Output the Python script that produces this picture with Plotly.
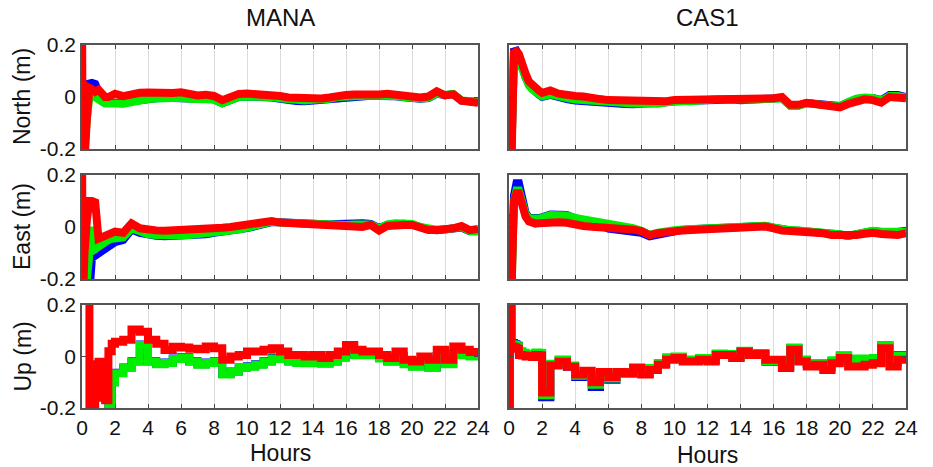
import plotly.graph_objects as go

# Time axis (hours), shared by every series
HOURS = [0, 0.05, 0.15, 0.3, 0.45, 0.6, 0.8, 1.0, 1.2, 1.4, 1.6, 1.8,
         2.0, 2.5, 3.0, 3.5, 4.0, 4.5, 5.0, 5.5, 6.0, 6.5, 7.0, 7.5,
         8.0, 8.5, 9.0, 9.5, 10.0, 10.5, 11.0, 11.5, 12.0, 12.5, 13.0, 13.5,
         14.0, 14.5, 15.0, 15.5, 16.0, 16.5, 17.0, 17.5, 18.0, 18.5, 19.0, 19.5,
         20.0, 20.5, 21.0, 21.5, 22.0, 22.5, 23.0, 23.5, 24.0]

STATIONS = ["MANA", "CAS1"]
COMPONENTS = ["North (m)", "East (m)", "Up (m)"]
Y_TICKS = [-0.2, 0, 0.2]
Y_TICK_TEXT = ["-0.2", "0", "0.2"]
X_TICKS = [0, 2, 4, 6, 8, 10, 12, 14, 16, 18, 20, 22, 24]

# ---------------- MANA ----------------
mana_north_blue = [0.0, -0.12, -0.06, 0.02, 0.052, 0.054, 0.05, 0.02, -0.012, -0.022, -0.025, -0.023,
                   -0.023, -0.024, -0.016, -0.01, -0.007, -0.005, -0.003, -0.004, -0.002, -0.006, -0.008, -0.006,
                   -0.009, -0.024, -0.011, 0.0, 0.002, 0.002, 0.002, -0.002, -0.007, -0.013, -0.015, -0.016,
                   -0.013, -0.012, -0.008, -0.001, 0.002, 0.003, 0.001, 0.005, 0.004, 0.006, 0.003, -0.001,
                   -0.005, -0.007, -0.004, 0.013, 0.007, 0.011, -0.014, -0.016, -0.019]
mana_north_green = [-0.25, -0.25, -0.2, -0.08, 0.0, 0.008, 0.002, -0.005, -0.018, -0.025, -0.027, -0.025,
                    -0.025, -0.026, -0.018, -0.012, -0.008, -0.006, -0.004, -0.005, -0.003, -0.007, -0.009, -0.007,
                    -0.01, -0.025, -0.012, 0.0, 0.002, 0.002, 0.003, 0.0, -0.005, -0.01, -0.012, -0.013,
                    -0.011, -0.011, -0.007, 0.0, 0.003, 0.004, 0.002, 0.006, 0.005, 0.007, 0.004, 0.0,
                    -0.004, -0.006, -0.003, 0.014, 0.008, 0.012, -0.013, -0.015, -0.018]
mana_north_red = [0.3, -0.3, -0.25, -0.08, 0.035, 0.03, 0.02, 0.028, 0.012, 0.0, 0.0, 0.01,
                  0.012, 0.003, 0.012, 0.016, 0.017, 0.015, 0.018, 0.015, 0.018, 0.01, 0.006, 0.009,
                  0.004, -0.012, 0.0, 0.012, 0.013, 0.012, 0.013, 0.008, 0.004, -0.002, -0.004, -0.006,
                  -0.004, -0.006, -0.002, 0.005, 0.008, 0.01, 0.008, 0.012, 0.01, 0.012, 0.008, 0.004,
                  0.0, -0.002, 0.002, 0.022, 0.006, 0.01, -0.014, -0.018, -0.022]

mana_east_blue = [-0.3, -0.3, -0.3, -0.3, -0.25, -0.12, -0.11, -0.1, -0.09, -0.08, -0.07, -0.062,
                  -0.058, -0.05, -0.01, -0.023, -0.031, -0.034, -0.036, -0.035, -0.036, -0.034, -0.032, -0.028,
                  -0.022, -0.019, -0.015, -0.01, -0.004, 0.003, 0.01, 0.019, 0.018, 0.016, 0.015, 0.013,
                  0.012, 0.01, 0.01, 0.012, 0.014, 0.012, 0.014, 0.012, -0.004, 0.008, 0.012, 0.012,
                  0.01, -0.002, -0.01, -0.012, -0.012, -0.006, -0.002, -0.016, -0.016]
mana_east_green = [-0.3, -0.3, -0.25, -0.2, -0.1, 0.0, -0.085, -0.075, -0.065, -0.055, -0.05, -0.045,
                   -0.042, -0.04, -0.005, -0.02, -0.028, -0.031, -0.033, -0.032, -0.033, -0.031, -0.029, -0.025,
                   -0.02, -0.018, -0.014, -0.01, -0.004, 0.003, 0.01, 0.02, 0.017, 0.015, 0.014, 0.012,
                   0.01, 0.008, 0.006, 0.006, 0.008, 0.01, 0.01, 0.01, -0.006, 0.01, 0.014, 0.014,
                   0.012, 0.0, -0.008, -0.01, -0.01, -0.004, 0.0, -0.015, -0.015]
mana_east_red = [0.3, -0.3, -0.1, 0.03, 0.1, 0.1, 0.095, -0.045, -0.04, -0.03, -0.03, -0.018,
                 -0.018, -0.022, 0.014, -0.005, -0.012, -0.013, -0.014, -0.013, -0.015, -0.014, -0.012, -0.008,
                 -0.005, -0.003, 0.0, 0.004, 0.008, 0.012, 0.017, 0.023, 0.017, 0.015, 0.014, 0.012,
                 0.01, 0.007, 0.004, 0.004, 0.004, -0.005, 0.0, 0.008, -0.014, 0.004, 0.008, 0.008,
                 0.008, -0.005, -0.012, -0.012, -0.012, -0.005, 0.004, -0.012, -0.008]

mana_up_blue = [-0.3, -0.3, -0.3, -0.3, -0.3, -0.3, -0.25, -0.25, -0.25, -0.22, -0.2, -0.1,
                -0.063, -0.043, -0.018, 0.047, -0.018, -0.028, -0.023, -0.008, -0.003, -0.018, -0.03, -0.023,
                -0.018, -0.068, -0.058, -0.043, -0.038, -0.03, -0.018, -0.006, -0.008, -0.018, -0.023, -0.024,
                -0.018, -0.026, -0.018, -0.003, 0.027, 0.007, 0.007, 0.007, -0.006, -0.018, 0.002, -0.028,
                -0.038, -0.018, -0.043, 0.002, -0.028, 0.012, 0.007, 0.002, -0.008]
mana_up_green = [-0.3, -0.3, -0.3, -0.3, -0.3, -0.3, -0.25, -0.25, -0.25, -0.22, -0.2, -0.1,
                 -0.065, -0.045, -0.02, 0.045, -0.02, -0.03, -0.025, -0.01, -0.005, -0.02, -0.032, -0.025,
                 -0.02, -0.07, -0.06, -0.045, -0.04, -0.032, -0.02, -0.008, -0.01, -0.02, -0.025, -0.026,
                 -0.02, -0.028, -0.02, -0.005, 0.025, 0.005, 0.005, 0.005, -0.008, -0.02, 0.0, -0.03,
                 -0.04, -0.02, -0.045, 0.0, -0.03, 0.01, 0.005, 0.0, -0.01]
mana_up_red = [0.3, 0.3, 0.3, 0.3, -0.25, -0.2, -0.03, -0.02, -0.16, -0.17, 0.02, 0.05,
               0.057, 0.065, 0.105, 0.096, 0.065, 0.05, 0.025, 0.038, 0.035, 0.03, 0.028, 0.039,
               0.032, -0.013, 0.0, 0.006, 0.019, 0.019, 0.026, 0.032, 0.019, 0.006, 0.006, 0.0,
               0.006, -0.006, 0.006, 0.019, 0.045, 0.026, 0.019, 0.019, 0.006, -0.006, 0.019, -0.013,
               -0.019, 0.0, -0.013, 0.026, -0.013, 0.039, 0.026, 0.017, 0.01]

# ---------------- CAS1 ----------------
cas1_north_blue = [-0.1, -0.22, -0.2, 0.175, 0.178, 0.16, 0.11, 0.075, 0.05, 0.032, 0.021, 0.01,
                   0.0, 0.008, -0.003, -0.008, -0.014, -0.017, -0.02, -0.025, -0.026, -0.027, -0.027, -0.028,
                   -0.027, -0.027, -0.026, -0.02, -0.016, -0.015, -0.015, -0.011, -0.008, -0.008, -0.008, -0.01,
                   -0.012, -0.009, -0.008, -0.009, -0.007, -0.004, -0.033, -0.033, -0.023, -0.027, -0.029, -0.031,
                   -0.035, -0.021, -0.008, -0.004, -0.004, -0.012, 0.008, 0.008, 0.0]
cas1_north_green = [-0.3, -0.3, -0.2, 0.15, 0.16, 0.14, 0.1, 0.07, 0.045, 0.03, 0.02, 0.01,
                    0.002, 0.01, 0.0, -0.004, -0.01, -0.013, -0.015, -0.02, -0.022, -0.024, -0.024, -0.025,
                    -0.025, -0.026, -0.026, -0.02, -0.016, -0.016, -0.016, -0.012, -0.009, -0.009, -0.009, -0.011,
                    -0.013, -0.01, -0.009, -0.01, -0.008, -0.005, -0.034, -0.034, -0.024, -0.028, -0.03, -0.032,
                    -0.036, -0.02, -0.006, -0.002, -0.004, -0.014, 0.004, 0.004, -0.002]
cas1_north_red = [-0.3, -0.3, -0.25, 0.17, 0.175, 0.165, 0.12, 0.09, 0.06, 0.045, 0.035, 0.025,
                  0.016, 0.025, 0.013, 0.012, 0.004, 0.002, 0.0, -0.008, -0.012, -0.013, -0.014, -0.016,
                  -0.018, -0.02, -0.022, -0.016, -0.012, -0.012, -0.012, -0.008, -0.005, -0.005, -0.005, -0.007,
                  -0.009, -0.006, -0.005, -0.006, -0.005, 0.0, -0.03, -0.03, -0.022, -0.027, -0.031, -0.035,
                  -0.04, -0.027, -0.014, -0.009, -0.012, -0.022, 0.0, 0.0, -0.005]

cas1_east_blue = [0.05, -0.25, -0.2, 0.12, 0.168, 0.168, 0.1, 0.055, 0.036, 0.034, 0.033, 0.035,
                  0.037, 0.048, 0.047, 0.046, 0.033, 0.026, 0.016, 0.008, -0.006, -0.01, -0.012, -0.016,
                  -0.022, -0.036, -0.03, -0.02, -0.013, -0.011, -0.009, -0.007, -0.006, -0.005, -0.002, 0.001,
                  0.004, 0.005, 0.006, 0.004, -0.003, -0.011, -0.013, -0.014, -0.016, -0.018, -0.022, -0.029,
                  -0.029, -0.034, -0.028, -0.022, -0.016, -0.019, -0.021, -0.019, -0.015]
cas1_east_green = [-0.1, -0.3, -0.25, 0.1, 0.14, 0.14, 0.09, 0.05, 0.034, 0.032, 0.031, 0.033,
                   0.035, 0.046, 0.045, 0.044, 0.035, 0.03, 0.02, 0.014, 0.008, 0.005, 0.003, -0.004,
                   -0.014, -0.03, -0.022, -0.015, -0.012, -0.01, -0.008, -0.006, -0.005, -0.004, -0.001, 0.002,
                   0.005, 0.006, 0.007, 0.005, -0.002, -0.01, -0.012, -0.013, -0.015, -0.017, -0.021, -0.028,
                   -0.028, -0.033, -0.027, -0.021, -0.015, -0.018, -0.02, -0.018, -0.014]
cas1_east_red = [-0.3, -0.3, -0.25, 0.1, 0.13, 0.13, 0.08, 0.04, 0.022, 0.014, 0.013, 0.014,
                 0.015, 0.022, 0.018, 0.016, 0.008, 0.004, 0.001, 0.0, -0.004, -0.006, -0.006, -0.01,
                 -0.016, -0.031, -0.024, -0.018, -0.015, -0.013, -0.012, -0.01, -0.009, -0.008, -0.005, -0.002,
                 0.001, 0.003, 0.004, 0.002, -0.005, -0.014, -0.015, -0.016, -0.018, -0.02, -0.024, -0.031,
                 -0.031, -0.037, -0.031, -0.026, -0.022, -0.027, -0.031, -0.031, -0.024]

cas1_up_blue = [-0.3, 0.3, 0.052, 0.048, 0.042, 0.018, 0.012, 0.008, 0.008, 0.005, 0.013, 0.011,
                -0.158, -0.032, -0.016, -0.04, -0.08, -0.074, -0.118, -0.08, -0.09, -0.066, -0.066, -0.046,
                -0.068, -0.048, -0.028, -0.006, -0.002, -0.014, -0.014, -0.008, -0.014, 0.01, 0.008, -0.004,
                0.02, 0.006, 0.008, -0.02, -0.02, -0.04, 0.032, -0.014, -0.03, -0.027, -0.042, -0.017,
                0.003, -0.022, -0.01, -0.012, -0.008, 0.043, -0.022, 0.006, 0.002]
cas1_up_green = [-0.3, 0.3, 0.048, 0.045, 0.04, 0.02, 0.015, 0.01, 0.01, 0.008, 0.016, 0.014,
                 -0.15, -0.028, -0.012, -0.035, -0.075, -0.068, -0.11, -0.075, -0.085, -0.062, -0.062, -0.042,
                 -0.065, -0.045, -0.025, -0.003, 0.0, -0.012, -0.012, -0.006, -0.012, 0.012, 0.01, -0.002,
                 0.022, 0.008, 0.01, -0.018, -0.018, -0.038, 0.035, -0.012, -0.028, -0.025, -0.04, -0.015,
                 0.005, -0.02, -0.008, -0.01, -0.006, 0.045, -0.02, 0.004, 0.0]
cas1_up_red = [-0.3, 0.3, 0.038, 0.035, 0.03, 0.006, 0.004, 0.0, 0.002, -0.002, 0.006, 0.004,
               -0.14, -0.035, -0.02, -0.04, -0.07, -0.055, -0.1, -0.06, -0.08, -0.06, -0.065, -0.045,
               -0.07, -0.052, -0.032, -0.013, -0.006, -0.019, -0.019, -0.013, -0.019, 0.006, 0.006, -0.006,
               0.019, 0.006, 0.013, -0.013, -0.013, -0.045, 0.026, -0.019, -0.039, -0.032, -0.052, -0.026,
               -0.006, -0.039, -0.039, -0.032, -0.026, 0.032, -0.039, -0.013, -0.006]

PANELS = {
    (1, 1): (mana_north_blue, mana_north_green, mana_north_red),
    (2, 1): (mana_east_blue, mana_east_green, mana_east_red),
    (3, 1): (mana_up_blue, mana_up_green, mana_up_red),
    (1, 2): (cas1_north_blue, cas1_north_green, cas1_north_red),
    (2, 2): (cas1_east_blue, cas1_east_green, cas1_east_red),
    (3, 2): (cas1_up_blue, cas1_up_green, cas1_up_red),
}
COLORS = ["#0000ff", "#00ee00", "#ff0000"]

W, H = 933, 467
# pixel boxes of the panels: columns (left, right), rows (top, bottom)
COL_PX = [(82, 478), (509, 906)]
ROW_PX = [(45, 149), (175, 279), (305, 408)]

FONT = "Liberation Sans, Arial, sans-serif"

fig = go.Figure()
for (r, c), series in PANELS.items():
    idx = (r - 1) * 2 + c
    xa = "x" if idx == 1 else f"x{idx}"
    ya = "y" if idx == 1 else f"y{idx}"
    shape = "hv" if r == 3 else "linear"
    for vals, col in zip(series, COLORS):
        fig.add_trace(go.Scatter(x=HOURS, y=vals, mode="lines", xaxis=xa, yaxis=ya,
                                 line=dict(color=col, width=8, shape=shape),
                                 showlegend=False, hoverinfo="skip"))
    x0, x1 = COL_PX[c - 1]
    y0, y1 = ROW_PX[r - 1]
    xkey = "xaxis" if idx == 1 else f"xaxis{idx}"
    ykey = "yaxis" if idx == 1 else f"yaxis{idx}"
    fig.layout[xkey] = dict(
        domain=[x0 / W, x1 / W], anchor=ya, range=[0, 24], automargin=False,
        tickvals=X_TICKS, showticklabels=(r == 3), ticks="inside", ticklen=4,
        tickcolor="#444", showgrid=True, gridcolor="#dcdcdc", gridwidth=1,
        showline=True, linecolor="#555", linewidth=1.5, mirror="ticks",
        zeroline=False, tickfont=dict(family=FONT, size=21, color="#111"),
    )
    fig.layout[ykey] = dict(
        domain=[1 - y1 / H, 1 - y0 / H], anchor=xa, range=[-0.2, 0.2], automargin=False,
        tickvals=Y_TICKS, ticktext=Y_TICK_TEXT, showticklabels=(c == 1),
        ticks="inside", ticklen=4, tickcolor="#444", showgrid=False,
        showline=True, linecolor="#555", linewidth=1.5, mirror="ticks",
        zeroline=False, tickfont=dict(family=FONT, size=21, color="#111"),
    )

annotations = []
for c, name in enumerate(STATIONS):
    x0, x1 = COL_PX[c]
    annotations.append(dict(text=name, x=(x0 + x1) / 2 / W, y=1 - 18 / H, xref="paper", yref="paper",
                            showarrow=False, font=dict(family=FONT, size=24, color="#111"),
                            xanchor="center", yanchor="middle"))
    annotations.append(dict(text="Hours", x=(x0 + x1) / 2 / W, y=1 - (453 + 2 * c) / H,
                            xref="paper", yref="paper",
                            showarrow=False, font=dict(family=FONT, size=23, color="#111"),
                            xanchor="center", yanchor="middle"))
for r, label in enumerate(COMPONENTS):
    y0, y1 = ROW_PX[r]
    annotations.append(dict(text=label, x=22 / W, y=1 - (y0 + y1) / 2 / H, xref="paper", yref="paper",
                            showarrow=False, textangle=-90, font=dict(family=FONT, size=23, color="#111"),
                            xanchor="center", yanchor="middle"))

fig.update_layout(width=W, height=H, margin=dict(l=0, r=0, t=0, b=0, autoexpand=False),
                  paper_bgcolor="white", plot_bgcolor="white",
                  annotations=annotations, showlegend=False)

fig.write_html("out.html")
